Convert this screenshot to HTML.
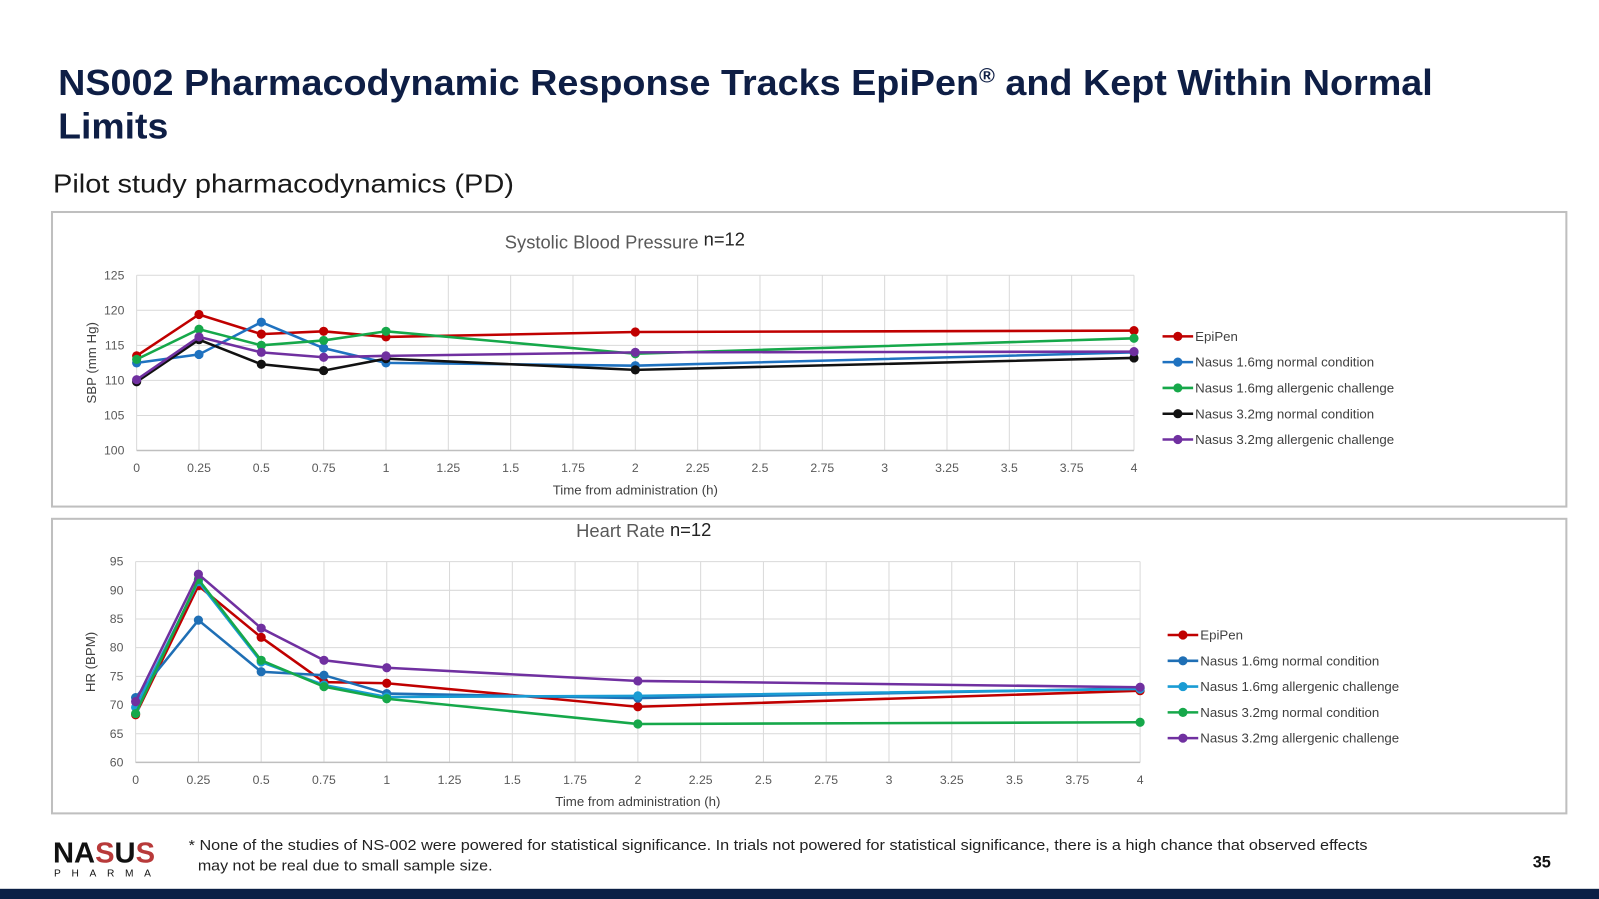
<!DOCTYPE html>
<html><head><meta charset="utf-8"><style>
html,body{margin:0;padding:0;background:#fff;}
svg{display:block;font-family:"Liberation Sans",sans-serif;}
</style></head><body>
<svg id="root" width="1599" height="899" viewBox="0 0 1568 882" preserveAspectRatio="none">
<text x="57" y="93" font-size="35" font-weight="bold" fill="#0e1e45" textLength="1348" lengthAdjust="spacingAndGlyphs">NS002 Pharmacodynamic Response Tracks EpiPen<tspan font-size="20" dy="-12">®</tspan><tspan dy="12"> and Kept Within Normal</tspan></text>
<text x="57" y="136" font-size="35" font-weight="bold" fill="#0e1e45" textLength="108" lengthAdjust="spacingAndGlyphs">Limits</text>
<text x="52" y="189" font-size="25" fill="#1a1a1a" textLength="452" lengthAdjust="spacingAndGlyphs">Pilot study pharmacodynamics (PD)</text>
<rect x="51" y="208" width="1485" height="289" fill="#fff" stroke="#bfbfbf" stroke-width="2"/>
<rect x="51" y="509" width="1485" height="289" fill="#fff" stroke="#bfbfbf" stroke-width="2"/>
<text x="495" y="244" font-size="18" fill="#595959">Systolic Blood Pressure <tspan fill="#222" dy="-3">n=12</tspan></text>
<text x="565" y="527" font-size="18" fill="#595959">Heart Rate  <tspan fill="#222" dy="-1">n=12</tspan></text>
<g id="c1"></g><g id="c2"></g>
<g>
<text x="52" y="846" font-size="28" font-weight="bold" fill="#111" textLength="100" lengthAdjust="spacingAndGlyphs">NA<tspan fill="#b83a3a">S</tspan>U<tspan fill="#b83a3a">S</tspan></text>
<text x="53" y="860" font-size="10" fill="#111" textLength="95" lengthAdjust="spacing">PHARMA</text>
</g>
<text x="185" y="834" font-size="14.5" fill="#222" textLength="1156" lengthAdjust="spacingAndGlyphs">* None of the studies of NS-002 were powered for statistical significance. In trials not powered for statistical significance, there is a high chance that observed effects</text>
<text x="194" y="854" font-size="14.5" fill="#222" textLength="289" lengthAdjust="spacingAndGlyphs">may not be real due to small sample size.</text>
<text x="1503" y="851" font-size="16" font-weight="bold" fill="#111">35</text>
<rect x="0" y="872" width="1568" height="10" fill="#0b1f45"/>
</svg>
<script>
const times=[0,0.25,0.5,0.75,1,2,4];
const xTicks=[0,0.25,0.5,0.75,1,1.25,1.5,1.75,2,2.25,2.5,2.75,3,3.25,3.5,3.75,4];
const seriesNames1=["EpiPen","Nasus 1.6mg normal condition","Nasus 1.6mg allergenic challenge","Nasus 3.2mg normal condition","Nasus 3.2mg allergenic challenge"];
const sbpEpiPen=[113.5,119.4,116.6,117,116.2,116.9,117.1];
const sbpN16Normal=[112.5,113.7,118.3,114.6,112.5,112.1,114];
const sbpN16Allergen=[113,117.3,115,115.7,117,113.8,116];
const sbpN32Normal=[109.8,115.8,112.3,111.4,113.1,111.5,113.2];
const sbpN32Allergen=[110.1,116.2,114,113.3,113.5,114,114.1];
const sbpTicks=[100,105,110,115,120,125];
const hrEpiPen=[68.3,90.8,81.8,74,73.8,69.7,72.5];
const hrN16Normal=[71.3,84.8,75.8,75.2,72,71.2,72.9];
const hrN16Allergen=[69.6,91.5,77.5,73.5,71.4,71.6,72.8];
const hrN32Normal=[68.5,91.9,77.8,73.2,71.1,66.7,67];
const hrN32Allergen=[70.6,92.8,83.4,77.8,76.5,74.2,73.1];
const hrTicks=[60,65,70,75,80,85,90,95];
const NS="http://www.w3.org/2000/svg";
function mk(p,t,a){const e=document.createElementNS(NS,t);for(const k in a)e.setAttribute(k,a[k]);p.appendChild(e);return e;}
function chart(g,cfg){
 const {x0,x1,y0,y1,min,max,ticks,series,colors,legX,legY,ylabel,key}=cfg;
 const sx=v=>x0+(v-0)/(4-0)*(x1-x0);
 const sy=v=>y1-(v-min)/(max-min)*(y1-y0);
 ticks.forEach(t=>{
  const l=mk(g,'line',{x1:x0,x2:x1,y1:sy(t),y2:sy(t),stroke:'#d9d9d9','stroke-width':1});
  
  
  const tx=mk(g,'text',{x:x0-12,y:sy(t)+4,'font-size':12,fill:'#595959','text-anchor':'end'});tx.textContent=t;
  
  
 });
 xTicks.forEach(t=>{
  const l=mk(g,'line',{x1:sx(t),x2:sx(t),y1:y0,y2:y1,stroke:'#d9d9d9','stroke-width':1});
  
  
  const tx=mk(g,'text',{x:sx(t),y:y1+21,'font-size':12,fill:'#595959','text-anchor':'middle'});tx.textContent=t;
  
  
 });
 const xt=mk(g,'text',{x:(x0+x1)/2,y:y1+43,'font-size':13,fill:'#404040','text-anchor':'middle'});xt.textContent='Time from administration (h)';
 
 
 const yt=mk(g,'text',{x:0,y:0,'font-size':13,fill:'#404040','text-anchor':'middle',transform:`translate(${x0-40},${(y0+y1)/2}) rotate(-90)`});yt.textContent=ylabel;
 
 
 series.forEach((vals,i)=>{
  const pts=vals.map((v,j)=>sx(times[j])+','+sy(v)).join(' ');
  const pl=mk(g,'polyline',{points:pts,fill:'none',stroke:colors[i],'stroke-width':2.5});
  
  
  vals.forEach((v,j)=>{
   const c=mk(g,'circle',{cx:sx(times[j]),cy:sy(v),r:4.5,fill:colors[i]});
   
   
  });
  const ly=legY[0]+i*legY[1];
  mk(g,'line',{x1:legX,x2:legX+30,y1:ly,y2:ly,stroke:colors[i],'stroke-width':2.5});
  mk(g,'circle',{cx:legX+15,cy:ly,r:4.5,fill:colors[i]});
  const lt=mk(g,'text',{x:legX+32,y:ly+4.5,'font-size':13,fill:'#404040'});lt.textContent=seriesNames1[i];
  
  
 });
 mk(g,'line',{x1:x0,x2:x1,y1:y1,y2:y1,stroke:'#bfbfbf','stroke-width':1.5});
}
chart(document.getElementById('c1'),{x0:134,x1:1112,y0:270,y1:442,min:100,max:125,ticks:sbpTicks,
 series:[sbpEpiPen,sbpN16Normal,sbpN16Allergen,sbpN32Normal,sbpN32Allergen],
 colors:['#c00000','#1f72c0','#16a84a','#111111','#7030a0'],legX:1140,legY:[330,25.3],ylabel:'SBP (mm Hg)',key:'sbp'});
chart(document.getElementById('c2'),{x0:133,x1:1118,y0:551,y1:748,min:60,max:95,ticks:hrTicks,
 series:[hrEpiPen,hrN16Normal,hrN16Allergen,hrN32Normal,hrN32Allergen],
 colors:['#c00000','#1f6fb5','#1a9cd4','#16a84a','#7030a0'],legX:1145,legY:[623,25.3],ylabel:'HR (BPM)',key:'hr'});
</script>
</body></html>
